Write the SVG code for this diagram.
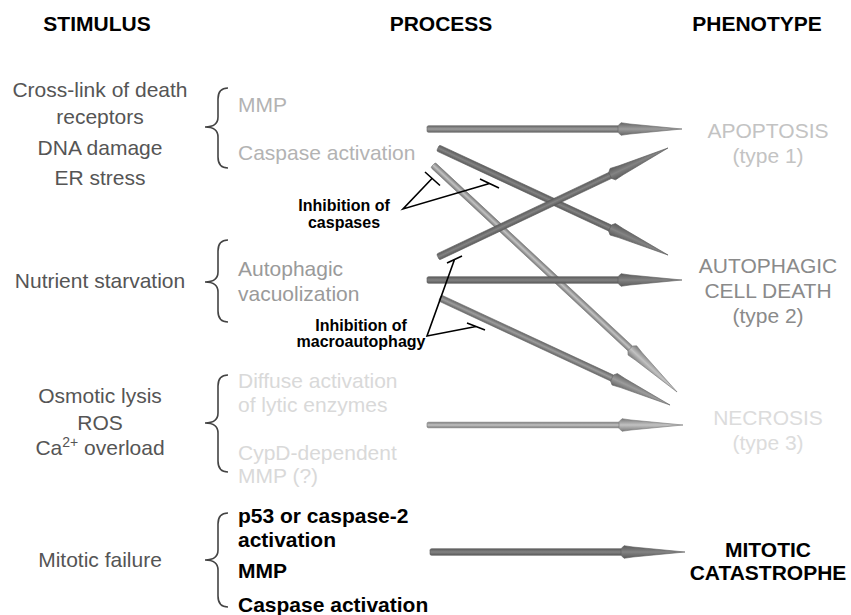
<svg xmlns="http://www.w3.org/2000/svg" xmlns:xlink="http://www.w3.org/1999/xlink" width="851" height="615" viewBox="0 0 851 615">
<style>
text{font-family:"Liberation Sans",Arial,Helvetica,sans-serif;font-size:21px}
.hdr{font-weight:bold;fill:#000;text-anchor:middle}
.stim{fill:#555;text-anchor:middle}
.p1{fill:#b3b3b3}
.p2{fill:#9a9a9a}
.p3{fill:#d9d9d9}
.p4{fill:#000;font-weight:bold}
.ph{text-anchor:middle}
.inh{font-weight:bold;font-size:16px;fill:#000;text-anchor:middle}
.brace{fill:none;stroke:#444;stroke-width:1.6}
.inhl{fill:none;stroke:#000;stroke-width:1.6}
.aDark{fill:url(#gDark);stroke:#5a5a5a;stroke-width:0.6}
.aMid{fill:url(#gMid);stroke:#666;stroke-width:0.6}
.aLight{fill:url(#gLight);stroke:#777;stroke-width:0.6}
</style>
<defs>
<linearGradient id="gDark" x1="0" y1="0" x2="0" y2="1">
<stop offset="0" stop-color="#5c5c5c"/><stop offset="0.4" stop-color="#7a7a7a"/><stop offset="0.5" stop-color="#848484"/><stop offset="0.6" stop-color="#7a7a7a"/><stop offset="1" stop-color="#5c5c5c"/>
</linearGradient>
<linearGradient id="gMid" x1="0" y1="0" x2="0" y2="1">
<stop offset="0" stop-color="#666"/><stop offset="0.5" stop-color="#9c9c9c"/><stop offset="1" stop-color="#666"/>
</linearGradient>
<linearGradient id="gLight" x1="0" y1="0" x2="0" y2="1">
<stop offset="0" stop-color="#7a7a7a"/><stop offset="0.5" stop-color="#c2c2c2"/><stop offset="1" stop-color="#7a7a7a"/>
</linearGradient>
<path id="head" d="M-64,-3.3 L-61,-6.3 L-52,-5 L0,0 L-52,5 L-61,6.3 L-64,3.3 Z"/>
</defs>
<rect width="851" height="615" fill="#fff"/>

<g id="headers">
<text class="hdr" x="97" y="31">STIMULUS</text>
<text class="hdr" x="441" y="31">PROCESS</text>
<text class="hdr" x="757" y="31">PHENOTYPE</text>
</g>

<g id="stimulus-death-receptors">
<text class="stim" x="100" y="97">Cross-link of death</text>
<text class="stim" x="100" y="124">receptors</text>
<text class="stim" x="100" y="155">DNA damage</text>
<text class="stim" x="100" y="185">ER stress</text>
</g>
<g id="stimulus-nutrient">
<text class="stim" x="100" y="288">Nutrient starvation</text>
</g>
<g id="stimulus-osmotic">
<text class="stim" x="100" y="403">Osmotic lysis</text>
<text class="stim" x="100" y="430">ROS</text>
<text class="stim" x="100" y="455">Ca<tspan dy="-8" font-size="14">2+</tspan><tspan dy="8"> overload</tspan></text>
</g>
<g id="stimulus-mitotic">
<text class="stim" x="100" y="567">Mitotic failure</text>
</g>

<g id="braces">
<path class="brace" d="M228,88 Q218,88 218,99 L218,117 Q218,127 205,127 Q218,127 218,137 L218,157 Q218,168 228,168"/>
<path class="brace" d="M228,240 Q218,240 218,251 L218,272 Q218,282 205,282 Q218,282 218,292 L218,311 Q218,322 228,322"/>
<path class="brace" d="M228,375 Q218,375 218,386 L218,413 Q218,423 205,423 Q218,423 218,433 L218,461 Q218,472 228,472"/>
<path class="brace" d="M228,513 Q218,513 218,524 L218,550 Q218,560 205,560 Q218,560 218,570 L218,596 Q218,607 228,607"/>
</g>

<g id="process-apoptotic">
<text class="p1" x="238" y="112">MMP</text>
<text class="p1" x="238" y="160">Caspase activation</text>
</g>
<g id="process-autophagic">
<text class="p2" x="238" y="276">Autophagic</text>
<text class="p2" x="238" y="301">vacuolization</text>
</g>
<g id="process-necrotic">
<text class="p3" x="238" y="388">Diffuse activation</text>
<text class="p3" x="238" y="412">of lytic enzymes</text>
<text class="p3" x="238" y="460">CypD-dependent</text>
<text class="p3" x="238" y="483">MMP (?)</text>
</g>
<g id="process-mitotic">
<text class="p4" x="238" y="523">p53 or caspase-2</text>
<text class="p4" x="238" y="547">activation</text>
<text class="p4" x="238" y="578">MMP</text>
<text class="p4" x="238" y="612">Caspase activation</text>
</g>

<g id="phenotype-apoptosis">
<text class="ph" x="768" y="138" fill="#c3c3c3">APOPTOSIS</text>
<text class="ph" x="768" y="163" fill="#c3c3c3">(type 1)</text>
</g>
<g id="phenotype-autophagic">
<text class="ph" x="768" y="273" fill="#8a8a8a">AUTOPHAGIC</text>
<text class="ph" x="768" y="298" fill="#8a8a8a">CELL DEATH</text>
<text class="ph" x="768" y="323" fill="#8a8a8a">(type 2)</text>
</g>
<g id="phenotype-necrosis">
<text class="ph" x="768" y="425" fill="#dcdcdc">NECROSIS</text>
<text class="ph" x="768" y="450" fill="#dcdcdc">(type 3)</text>
</g>
<g id="phenotype-mitotic">
<text class="ph" x="768" y="557" fill="#000" font-weight="bold">MITOTIC</text>
<text class="ph" x="768" y="580" fill="#000" font-weight="bold">CATASTROPHE</text>
</g>

<g id="connectors">
<g class="aMid" transform="translate(427,129)"><rect x="0" y="-3.3" width="192" height="6.6" rx="1.5"/><use xlink:href="#head" href="#head" x="255"/></g>
<g class="aDark" transform="translate(438,148) rotate(24.95)"><rect x="0" y="-3.3" width="190.7" height="6.6" rx="1.5"/><use xlink:href="#head" href="#head" x="253.7"/></g>
<g class="aLight" transform="translate(433,165) rotate(42.93)"><rect x="0" y="-3.3" width="270.3" height="6.6" rx="1.5"/><use xlink:href="#head" href="#head" x="333.3"/></g>
<g class="aDark" transform="translate(438,257) rotate(-25.36)"><rect x="0" y="-3.3" width="191.5" height="6.6" rx="1.5"/><use xlink:href="#head" href="#head" x="254.5"/></g>
<g class="aDark" transform="translate(427,280)"><rect x="0" y="-3.3" width="192" height="6.6" rx="1.5"/><use xlink:href="#head" href="#head" x="255"/></g>
<g class="aMid" transform="translate(440,298) rotate(24.95)"><rect x="0" y="-3.3" width="190.7" height="6.6" rx="1.5"/><use xlink:href="#head" href="#head" x="253.7"/></g>
<g class="aLight" transform="translate(427,425)"><rect x="0" y="-2.8" width="193" height="5.6" rx="1.5"/><use xlink:href="#head" href="#head" x="256"/></g>
<g class="aDark" transform="translate(430,552)"><rect x="0" y="-3.3" width="192" height="6.6" rx="1.5"/><use xlink:href="#head" href="#head" x="255"/></g>

<path class="inhl" d="M432,178.5 L403,209 L489.5,183.5 M425,172 L440,185.5 M480,179 L499,188"/>
<path class="inhl" d="M454.5,259.5 L427,336 L476,326.5 M447,263 L462,256 M467,323 L485,330"/>
</g>

<g id="inhibition-labels">
<text class="inh" x="344" y="211">Inhibition of</text>
<text class="inh" x="344" y="228">caspases</text>
<text class="inh" x="361" y="331">Inhibition of</text>
<text class="inh" x="361" y="347">macroautophagy</text>
</g>
</svg>
